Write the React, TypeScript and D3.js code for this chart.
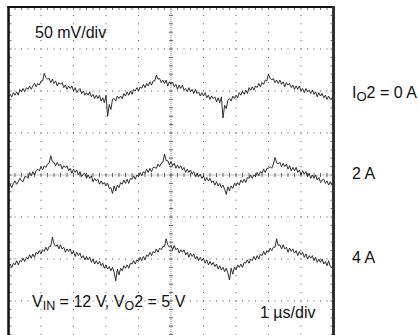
import React from "react";
import * as d3 from "d3";

// time axis: 0..10 µs, sample step 0.05 µs
const TIME_STEP = 0.05;

// Ripple traces in mV (relative to screen centre), 50 mV/div
const trace0A = [
  93, 96, 93, 98, 95, 99, 95, 102, 99, 103, 99, 104, 102, 106, 102, 106, 109, 105, 109, 107,
  112, 112, 121, 116, 114, 115, 110, 114, 109, 112, 106, 110, 108, 110, 104, 107, 102, 106, 103, 106,
  100, 104, 98, 101, 103, 97, 100, 95, 98, 95, 99, 93, 96, 91, 95, 91, 95, 88, 92, 86,
  95, 70, 84, 78, 90, 91, 88, 94, 91, 94, 91, 97, 94, 99, 95, 100, 96, 102, 100, 104,
  100, 105, 103, 108, 104, 109, 106, 111, 107, 112, 112, 119, 114, 115, 110, 113, 109, 113, 106, 111,
  108, 110, 105, 108, 102, 107, 103, 107, 101, 103, 99, 104, 99, 102, 97, 102, 97, 99, 94, 98,
  94, 98, 92, 95, 90, 94, 91, 93, 87, 92, 86, 93, 68, 83, 79, 89, 91, 88, 94, 91,
  95, 92, 98, 95, 100, 96, 101, 97, 104, 101, 105, 101, 106, 104, 109, 105, 110, 108, 113, 112,
  120, 115, 113, 115, 110, 113, 109, 113, 108, 111, 105, 110, 107, 109, 104, 107, 102, 106, 102, 106,
  100, 103, 98, 103, 99, 101, 97, 101, 96, 99, 93, 98, 94, 97, 92, 95, 90, 94, 90, 92,
  88,
];

const trace2A = [
  -14, -11, -15, -10, -7, -11, -8, -4, -7, -8, -2, -2, -4, 3, -1, 4, 0, 5, 7, 5,
  10, 6, 11, 9, 13, 14, 23, 16, 15, 11, 15, 11, 13, 7, 11, 9, 11, 5, 8, 2,
  7, 3, 6, 0, 4, -2, 1, 2, -4, 0, -4, -1, -8, -4, -7, -5, -11, -7, -11, -9,
  -13, -10, -16, -15, -22, -13, -19, -12, -15, -9, -11, -6, -10, -5, -10, -4, -5, -1, -5, 0,
  -2, 3, -1, 4, 2, 7, 3, 8, 4, 9, 9, 8, 13, 10, 14, 15, 25, 17, 17, 12,
  16, 11, 14, 8, 12, 8, 11, 6, 9, 3, 7, 3, 6, 1, 4, -2, 2, -2, 1, -4,
  -1, -7, -3, -7, -4, -9, -7, -12, -8, -13, -10, -15, -12, -17, -23, -14, -19, -13, -16, -10,
  -13, -9, -12, -6, -9, -5, -9, -3, -4, 0, -4, 0, -2, 3, -1, 4, 2, 7, 3, 8,
  8, 10, 8, 13, 21, 15, 13, 15, 10, 14, 10, 13, 7, 11, 5, 9, 5, 9, 3, 6,
  0, 5, 1, 4, -2, 2, -4, 0, -4, 0, -6, -3, -9, -6, -5, -10, -7, -12, -8, -12,
  -11,
];

const trace4A = [
  -110, -106, -110, -105, -107, -102, -107, -102, -103, -99, -103, -98, -100, -95, -99, -94, -98, -92, -94, -90,
  -94, -89, -91, -86, -90, -85, -85, -74, -82, -85, -83, -88, -83, -88, -86, -92, -88, -91, -88, -94,
  -91, -97, -92, -96, -93, -99, -96, -101, -97, -101, -98, -104, -100, -106, -102, -106, -103, -108, -105, -111,
  -107, -112, -109, -114, -110, -116, -126, -112, -119, -111, -114, -108, -111, -107, -111, -105, -106, -102, -106, -101,
  -103, -98, -102, -97, -101, -95, -97, -92, -96, -91, -93, -88, -92, -87, -89, -85, -85, -76, -83, -86,
  -84, -89, -84, -89, -87, -93, -89, -92, -89, -95, -92, -98, -93, -97, -94, -100, -97, -102, -98, -102,
  -99, -105, -101, -107, -103, -107, -104, -109, -106, -112, -108, -113, -110, -115, -111, -117, -125, -111, -118, -110,
  -113, -107, -110, -106, -110, -104, -105, -101, -105, -100, -102, -97, -101, -96, -100, -94, -96, -91, -95, -90,
  -92, -87, -90, -86, -86, -76, -84, -83, -88, -83, -88, -86, -92, -87, -91, -88, -93, -90, -96, -91,
  -95, -92, -98, -94, -100, -96, -99, -96, -102, -98, -104, -100, -104, -100, -106, -103, -108, -102, -109, -110,
  -106,
];

const traces = [trace0A, trace2A, trace4A];

const W = 418;
const H = 335;
const LEFT = 8.5;
const RIGHT = 333.5;
const TOP = 7;
const BOTTOM = 343;

export default function App() {
  const x = d3.scaleLinear().domain([0, 10]).range([LEFT, RIGHT]);
  const y = d3.scaleLinear().domain([-200, 200]).range([BOTTOM, TOP]);

  const line = d3
    .line<number>()
    .x((_, i) => x(i * TIME_STEP))
    .y((v) => y(v));

  const majorX = d3.range(1, 10).filter((i) => i !== 5);
  const majorY = d3.range(-150, 200, 50).filter((v) => v !== 0);
  const minorX = d3.range(0, 10.001, 0.2);
  const minorY = d3.range(-200, 200.001, 10);

  const dots: JSX.Element[] = [];
  majorX.forEach((t) => {
    minorY.forEach((v, j) => {
      dots.push(
        <rect key={`vx${t}-${j}`} x={x(t) - 0.5} y={y(v) - 0.5} width={1} height={1} fill="#555" />
      );
    });
  });
  majorY.forEach((v) => {
    minorX.forEach((t, j) => {
      dots.push(
        <rect key={`hy${v}-${j}`} x={x(t) - 0.5} y={y(v) - 0.5} width={1} height={1} fill="#555" />
      );
    });
  });

  const font = "'Liberation Sans', Arial, sans-serif";

  return (
    <svg
      width={W}
      height={H}
      style={{ position: "absolute", left: 0, top: 0, background: "#fff" }}
      fontFamily={font}
    >
      <rect x={0} y={0} width={W} height={H} fill="#fff" />
      <g>{dots}</g>
      {/* centre lines */}
      <line x1={x(5)} x2={x(5)} y1={TOP} y2={BOTTOM} stroke="#888" strokeWidth={1} strokeDasharray="1 1" />
      <line x1={LEFT} x2={RIGHT} y1={y(0)} y2={y(0)} stroke="#888" strokeWidth={1} strokeDasharray="1 1" />
      {minorY.map((v, j) => (
        <line key={`cty${j}`} x1={x(5) - 2} x2={x(5) + 2} y1={y(v)} y2={y(v)} stroke="#666" strokeWidth={1} />
      ))}
      {minorX.map((t, j) => (
        <line key={`ctx${j}`} x1={x(t)} x2={x(t)} y1={y(0) - 2} y2={y(0) + 2} stroke="#666" strokeWidth={1} />
      ))}
      {/* border ticks */}
      {minorX.map((t, j) => (
        <line key={`tt${j}`} x1={x(t)} x2={x(t)} y1={TOP} y2={TOP + 3} stroke="#777" strokeWidth={1} />
      ))}
      {minorY.map((v, j) => (
        <line key={`lt${j}`} x1={LEFT} x2={LEFT + 3} y1={y(v)} y2={y(v)} stroke="#777" strokeWidth={1} />
      ))}
      {minorY.map((v, j) => (
        <line key={`rt${j}`} x1={RIGHT - 3} x2={RIGHT} y1={y(v)} y2={y(v)} stroke="#777" strokeWidth={1} />
      ))}
      {/* traces */}
      {traces.map((tr, i) => (
        <path key={`tr${i}`} d={line(tr) || ""} fill="none" stroke="#1a1a1a" strokeWidth={0.9} strokeLinejoin="round" />
      ))}
      {/* frame */}
      <line x1={LEFT} x2={LEFT} y1={TOP - 1} y2={H} stroke="#111" strokeWidth={2.5} />
      <line x1={LEFT - 1} x2={RIGHT + 1.5} y1={TOP} y2={TOP} stroke="#111" strokeWidth={2} />
      <line x1={RIGHT} x2={RIGHT} y1={TOP - 1} y2={H} stroke="#333" strokeWidth={3} />
      {/* texts */}
      <text x={35} y={38} fontSize={16} fill="#111">50 mV/div</text>
      <text x={352} y={98} fontSize={16} fill="#111">
        I<tspan fontSize={13} dy={3}>O</tspan>
        <tspan dy={-3}>2 = 0 A</tspan>
      </text>
      <text x={352} y={179} fontSize={16} fill="#111">2 A</text>
      <text x={352} y={263} fontSize={16} fill="#111">4 A</text>
      <text x={32} y={307} fontSize={16} fill="#111">
        V<tspan fontSize={12.5} dy={3}>IN</tspan>
        <tspan dy={-3}> = 12 V, V</tspan>
        <tspan fontSize={12.5} dy={3}>O</tspan>
        <tspan dy={-3}>2 = 5 V</tspan>
      </text>
      <text x={260} y={318} fontSize={16} fill="#111">1 µs/div</text>
    </svg>
  );
}
